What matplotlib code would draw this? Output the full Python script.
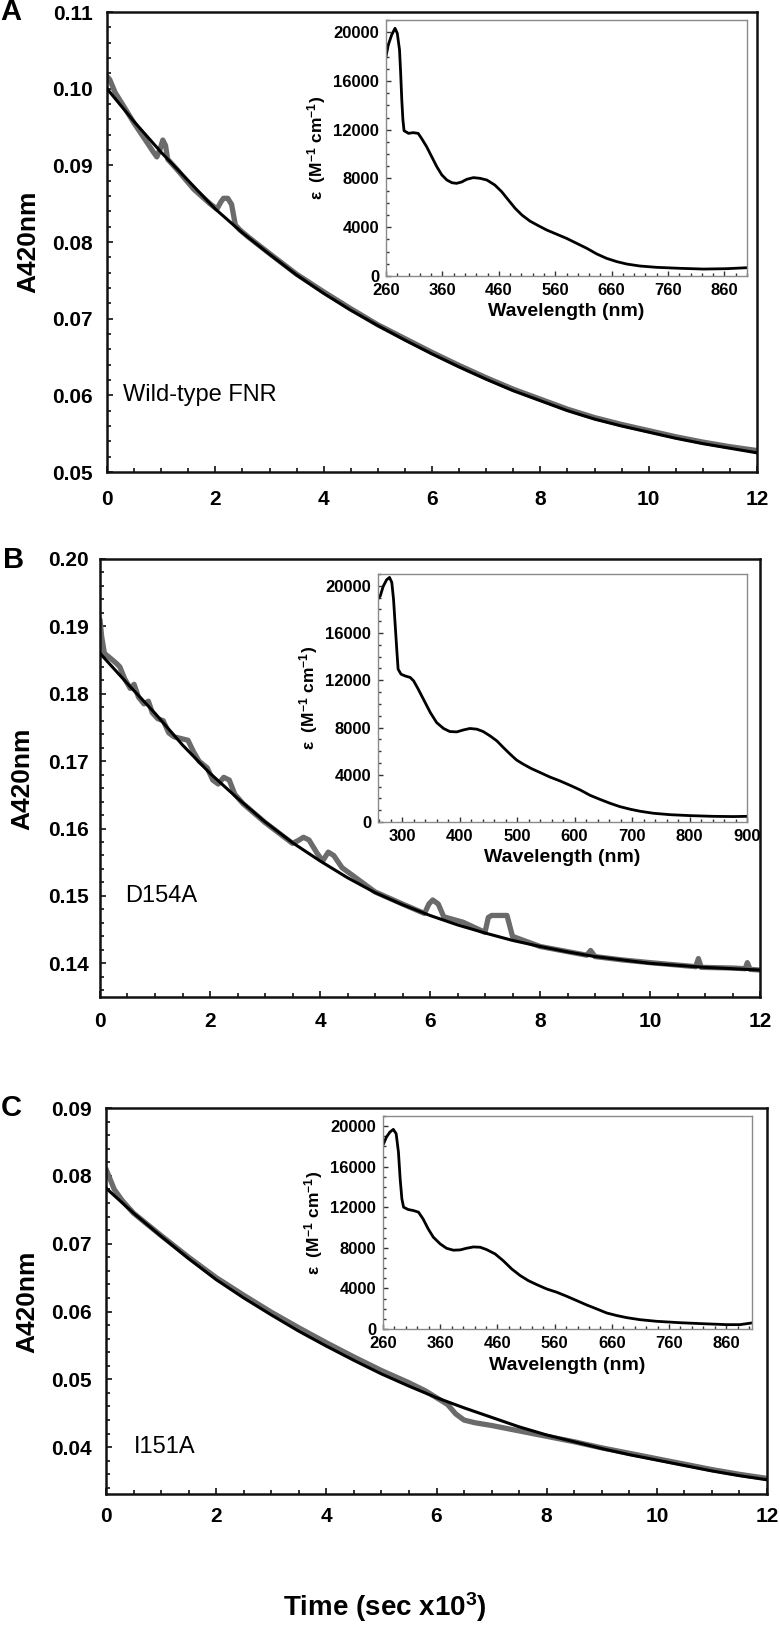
import numpy as np
import matplotlib
matplotlib.use("Agg")
import matplotlib.pyplot as plt
from matplotlib.ticker import MultipleLocator, FormatStrFormatter

plt.rcParams['font.family'] = ['Liberation Sans', 'DejaVu Sans']
plt.rcParams['mathtext.fontset'] = 'custom'
plt.rcParams['mathtext.rm'] = 'Liberation Sans:bold'
plt.rcParams['mathtext.bf'] = 'Liberation Sans:bold'
plt.rcParams['mathtext.default'] = 'rm'

# ---------------- data: panel A (wild-type FNR) ----------------
a_fit_t = [0, 0.5, 1, 1.5, 2, 2.5, 3, 3.5, 4, 4.5, 5, 5.5, 6, 6.5, 7, 7.5, 8, 8.5, 9, 9.5, 10, 10.5, 11, 11.5, 12]
a_fit_v = [0.1000, 0.0957, 0.0917, 0.0880, 0.0843, 0.0812, 0.0784, 0.0757, 0.0733, 0.0711, 0.0691,
           0.0672, 0.0654, 0.0637, 0.0621, 0.0606, 0.0593, 0.0580, 0.0569, 0.0560, 0.0552, 0.0544,
           0.0537, 0.0531, 0.0525]
a_dat_t = [0.0, 0.05, 0.15, 0.3, 0.5, 0.7, 0.85, 0.92, 0.98, 1.03, 1.08, 1.12, 1.3, 1.6, 1.9, 2.03,
           2.1, 2.15, 2.23, 2.3, 2.37, 2.45, 2.6, 3.0, 3.5, 4.0, 4.5, 5.0, 5.5, 6.0, 6.5, 7.0, 7.5,
           8.0, 8.5, 9.0, 9.5, 10.0, 10.5, 11.0, 11.5, 12.0]
a_dat_v = [0.1016, 0.1012, 0.0995, 0.0978, 0.0955, 0.0934, 0.0918, 0.0911, 0.0921, 0.0933, 0.0926,
           0.0908, 0.0894, 0.0869, 0.0850, 0.0843, 0.0852, 0.0857, 0.0857, 0.0849, 0.0822, 0.0816,
           0.0807, 0.0785, 0.0758, 0.0735, 0.0713, 0.0692, 0.0674, 0.0656, 0.0639, 0.0623, 0.0608,
           0.0595, 0.0582, 0.0571, 0.0562, 0.0554, 0.0546, 0.0539, 0.0533, 0.0528]
a_wl = [260, 264, 270, 276, 280, 284, 286, 288, 290, 292, 300, 308, 317, 323, 332, 341, 350, 359,
        368, 377, 385, 394, 403, 415, 427, 439, 453, 465, 477, 489, 501, 515, 530, 545, 563, 580,
        598, 616, 634, 651, 669, 687, 710, 740, 781, 823, 864, 900]
a_eps = [17990, 18950, 19770, 20320, 19910, 18540, 16630, 14440, 12800, 11920, 11700, 11760, 11700,
         11290, 10610, 9790, 8970, 8290, 7870, 7650, 7600, 7710, 7930, 8070, 8010, 7870, 7460, 6920,
         6230, 5550, 5000, 4510, 4130, 3770, 3420, 3090, 2680, 2270, 1800, 1450, 1180, 980, 820, 710,
         630, 570, 600, 680]

# ---------------- data: panel B (D154A) ----------------
b_fit_t = [0, 0.5, 1, 1.5, 2, 2.5, 3, 3.5, 4, 4.5, 5, 5.5, 6, 6.5, 7, 7.5, 8, 8.5, 9, 9.5, 10, 10.5, 11, 11.5, 12]
b_fit_v = [0.1860, 0.1815, 0.1771, 0.1724, 0.1682, 0.1645, 0.1610, 0.1579, 0.1552, 0.1527, 0.1505,
           0.1487, 0.1471, 0.1457, 0.1445, 0.1434, 0.1425, 0.1417, 0.1410, 0.1405, 0.1400, 0.1397,
           0.1394, 0.1392, 0.1390]
b_dat_t = [0.0, 0.03, 0.08, 0.2, 0.3, 0.36, 0.45, 0.55, 0.62, 0.7, 0.8, 0.88, 0.95, 1.05, 1.15, 1.25,
           1.35, 1.5, 1.6, 1.7, 1.8, 1.95, 2.05, 2.15, 2.25, 2.35, 2.45, 2.6, 3.0, 3.5, 3.6, 3.7, 3.8,
           3.95, 4.05, 4.15, 4.25, 4.4, 5.0, 5.5, 5.9, 5.98, 6.05, 6.15, 6.25, 6.6, 7.0, 7.06, 7.12,
           7.4, 7.5, 8.0, 8.85, 8.92, 9.0, 9.5, 10.0, 10.83, 10.88, 10.93, 11.5, 11.73, 11.77, 11.82, 12.0]
b_dat_v = [0.1910, 0.1885, 0.1860, 0.1852, 0.1845, 0.1840, 0.1822, 0.1808, 0.1814, 0.1795, 0.1785,
           0.1789, 0.1772, 0.1763, 0.1760, 0.1742, 0.1736, 0.1733, 0.1731, 0.1714, 0.1700, 0.1690,
           0.1672, 0.1666, 0.1676, 0.1672, 0.1651, 0.1637, 0.1609, 0.1578, 0.1582, 0.1587, 0.1583,
           0.1563, 0.1552, 0.1565, 0.1560, 0.1542, 0.1506, 0.1488, 0.1474, 0.1488, 0.1494, 0.1488,
           0.1469, 0.1461, 0.1446, 0.1468, 0.1471, 0.1471, 0.1440, 0.1425, 0.1412, 0.1419, 0.1410,
           0.1405, 0.1401, 0.1395, 0.1407, 0.1394, 0.1393, 0.1392, 0.1401, 0.1391, 0.1390]
b_wl = [258, 262, 267, 273, 278, 282, 285, 288, 291, 293, 298, 305, 314, 320, 328, 337, 349, 360,
        372, 383, 395, 407, 418, 430, 441, 453, 465, 476, 488, 499, 511, 525, 540, 557, 575, 592,
        610, 627, 644, 662, 679, 697, 714, 737, 766, 801, 841, 876, 900]
b_eps = [18900, 19150, 19950, 20510, 20710, 20290, 18870, 16610, 14350, 12940, 12520, 12370, 12240,
         11950, 11250, 10400, 9270, 8420, 7920, 7660, 7630, 7800, 7920, 7860, 7660, 7290, 6860, 6310,
         5740, 5250, 4890, 4520, 4190, 3810, 3470, 3110, 2710, 2260, 1920, 1580, 1300, 1080, 910, 740,
         620, 540, 480, 460, 480]

# ---------------- data: panel C (I151A) ----------------
c_fit_t = [0, 0.5, 1, 1.5, 2, 2.5, 3, 3.5, 4, 4.5, 5, 5.5, 6, 6.5, 7, 7.5, 8, 8.5, 9, 9.5, 10, 10.5, 11, 11.5, 12]
c_fit_v = [0.0782, 0.0745, 0.0711, 0.0678, 0.0647, 0.0620, 0.0595, 0.0571, 0.0549, 0.0528, 0.0508,
           0.0490, 0.0473, 0.0458, 0.0444, 0.0430, 0.0418, 0.0408, 0.0398, 0.0389, 0.0381, 0.0373,
           0.0365, 0.0358, 0.0352]
c_dat_t = [0.0, 0.05, 0.15, 0.3, 0.5, 1.0, 1.5, 2.0, 2.5, 3.0, 3.5, 4.0, 4.5, 5.0, 5.5, 5.8, 6.0,
           6.2, 6.35, 6.5, 6.7, 7.0, 7.5, 8.0, 8.5, 9.0, 9.5, 10.0, 10.5, 11.0, 11.5, 12.0]
c_dat_v = [0.0810, 0.0800, 0.0780, 0.0763, 0.0745, 0.0712, 0.0680, 0.0650, 0.0624, 0.0599, 0.0576,
           0.0554, 0.0533, 0.0513, 0.0495, 0.0483, 0.0473, 0.0463, 0.0449, 0.0440, 0.0436, 0.0432,
           0.0424, 0.0416, 0.0408, 0.0399, 0.0391, 0.0383, 0.0375, 0.0367, 0.0360, 0.0354]
c_wl = [261, 266, 272, 278, 283, 287, 290, 293, 296, 304, 313, 322, 330, 339, 348, 360, 371, 383,
        395, 406, 418, 430, 441, 456, 470, 485, 500, 514, 529, 546, 564, 581, 599, 616, 634, 651,
        669, 686, 709, 738, 779, 820, 861, 884, 904]
c_eps = [18260, 18920, 19410, 19680, 19250, 17440, 14800, 12830, 12010, 11780, 11680, 11520, 10860,
         9870, 9050, 8390, 7960, 7770, 7800, 7960, 8090, 8060, 7830, 7400, 6740, 5920, 5260, 4770,
         4370, 3950, 3620, 3230, 2790, 2370, 1970, 1580, 1320, 1120, 920, 760, 620, 520, 430, 430, 590]

W, H = 780, 1652
fig = plt.figure(figsize=(W / 100, H / 100), dpi=100)


def rect(x0, y0, x1, y1):
    return [x0 / W, 1 - y1 / H, (x1 - x0) / W, (y1 - y0) / H]


GRAY = '#6b6b6b'


def main_axes(r, ylim, yticks, ypad, xpad):
    ax = fig.add_axes(rect(*r))
    ax.set_xlim(0, 12)
    ax.set_ylim(*ylim)
    ax.set_xticks([0, 2, 4, 6, 8, 10, 12])
    ax.set_yticks(yticks)
    ax.xaxis.set_minor_locator(MultipleLocator(0.5))
    ax.yaxis.set_minor_locator(MultipleLocator(0.002))
    ax.yaxis.set_major_formatter(FormatStrFormatter('%.2f'))
    for s in ax.spines.values():
        s.set_linewidth(1.8)
        s.set_color('#111111')
    ax.tick_params(which='both', direction='in', top=False, right=False, width=1.3, color='#222222')
    ax.tick_params(which='major', length=4.5)
    ax.tick_params(which='minor', length=2.8)
    ax.tick_params(axis='y', which='major', pad=ypad)
    ax.tick_params(axis='x', which='major', pad=xpad)
    for lab in ax.get_xticklabels() + ax.get_yticklabels():
        lab.set_fontweight('bold')
        lab.set_fontsize(15)
    return ax


def inset_axes(r, xlim, xticks, ylim):
    ax = fig.add_axes(rect(*r))
    ax.set_xlim(*xlim)
    ax.set_ylim(*ylim)
    ax.set_xticks(xticks)
    ax.set_yticks([0, 4000, 8000, 12000, 16000, 20000])
    ax.xaxis.set_minor_locator(MultipleLocator(20))
    ax.yaxis.set_minor_locator(MultipleLocator(1000))
    for s in ax.spines.values():
        s.set_linewidth(1.0)
        s.set_color('#8a8a8a')
    ax.tick_params(which='both', direction='in', top=False, right=False, width=1.0, color='#333333')
    ax.tick_params(which='major', length=3.5, pad=5)
    ax.tick_params(which='minor', length=2.2)
    for lab in ax.get_xticklabels() + ax.get_yticklabels():
        lab.set_fontweight('bold')
        lab.set_fontsize(12)
    ax.set_xlabel('Wavelength (nm)', fontsize=14, fontweight='bold', labelpad=4)
    ax.set_ylabel('ε  (M$^{-1}$ cm$^{-1}$)', fontsize=12.5, fontweight='bold', labelpad=4)
    return ax


# ---------------- Panel A ----------------
axA = main_axes((107, 12, 757, 472), (0.05, 0.11), [0.05, 0.06, 0.07, 0.08, 0.09, 0.10, 0.11], 10, 13)
axA.plot(a_dat_t, a_dat_v, color=GRAY, lw=3.8, solid_capstyle='round', solid_joinstyle='round', zorder=2)
axA.plot(a_fit_t, a_fit_v, color='black', lw=2.2, zorder=3)
axA.text(0.3, 0.0600, 'Wild-type FNR', fontsize=17, va='center', ha='left')
insA = inset_axes((386, 20, 747, 276), (260, 900), [260, 360, 460, 560, 660, 760, 860], (0, 21000))
insA.plot(a_wl, a_eps, color='black', lw=2.0)

# ---------------- Panel B ----------------
axB = main_axes((100, 559, 760, 997), (0.135, 0.20), [0.14, 0.15, 0.16, 0.17, 0.18, 0.19, 0.20], 8, 11)
axB.plot(b_dat_t, b_dat_v, color=GRAY, lw=3.8, solid_capstyle='round', solid_joinstyle='round', zorder=2)
axB.plot(b_fit_t, b_fit_v, color='black', lw=2.2, zorder=3)
axB.text(0.45, 0.150, 'D154A', fontsize=17, va='center', ha='left')
insB = inset_axes((378, 574, 747, 822), (258, 900), [300, 400, 500, 600, 700, 800, 900], (0, 21000))
insB.plot(b_wl, b_eps, color='black', lw=2.0)

# ---------------- Panel C ----------------
axC = main_axes((106, 1108, 767, 1494), (0.0331, 0.09), [0.04, 0.05, 0.06, 0.07, 0.08, 0.09], 10, 9)
axC.plot(c_dat_t, c_dat_v, color=GRAY, lw=3.8, solid_capstyle='round', solid_joinstyle='round', zorder=2)
axC.plot(c_fit_t, c_fit_v, color='black', lw=2.2, zorder=3)
axC.text(0.5, 0.040, 'I151A', fontsize=17, va='center', ha='left')
insC = inset_axes((383, 1116, 752, 1329), (260, 905), [260, 360, 460, 560, 660, 760, 860], (0, 21000))
insC.plot(c_wl, c_eps, color='black', lw=2.0)

# ---------------- labels ----------------
fig.text(28 / W, 1 - 242 / H, 'A420nm', rotation=90, fontsize=19, fontweight='bold', ha='center', va='center')
fig.text(22 / W, 1 - 779 / H, 'A420nm', rotation=90, fontsize=19, fontweight='bold', ha='center', va='center')
fig.text(27 / W, 1 - 1302 / H, 'A420nm', rotation=90, fontsize=19, fontweight='bold', ha='center', va='center')
fig.text(385 / W, 1 - 1607 / H, 'Time (sec x10$^{3}$)', fontsize=20, fontweight='bold', ha='center', va='center')

fig.text(0 / W, 1 - 12 / H, 'A', fontsize=21, fontweight='bold', ha='left', va='center')
fig.text(3 / W, 1 - 560 / H, 'B', fontsize=21, fontweight='bold', ha='left', va='center')
fig.text(1 / W, 1 - 1108 / H, 'C', fontsize=21, fontweight='bold', ha='left', va='center')

fig.savefig('out.png', dpi=100)
